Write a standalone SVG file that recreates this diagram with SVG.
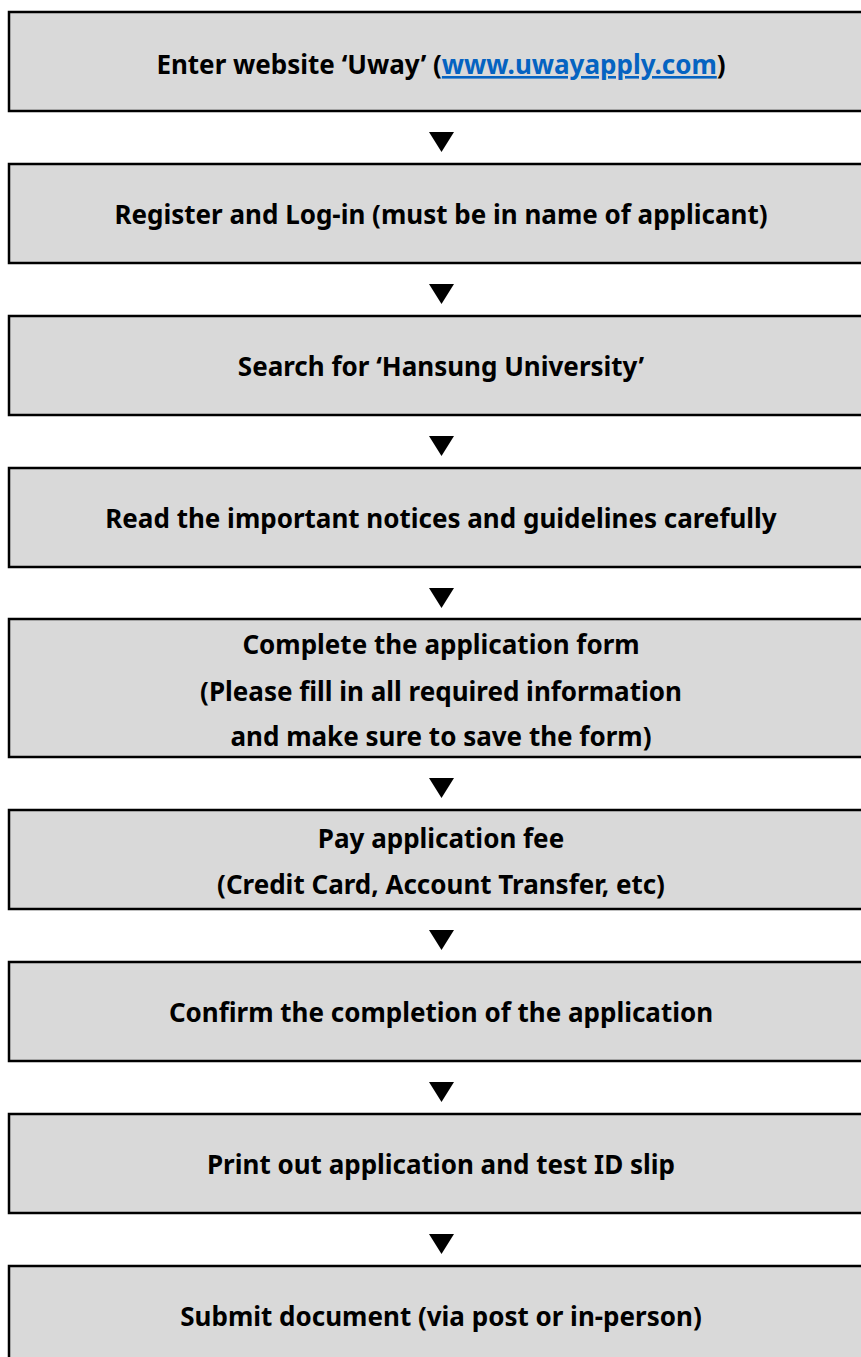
<svg xmlns="http://www.w3.org/2000/svg" width="861" height="1357" viewBox="0 0 861 1357">
<style>
.box{fill:#d9d9d9;stroke:#000;stroke-width:2.5}
.t{font-family:"Noto Sans","Liberation Sans",sans-serif;font-weight:bold;font-size:26px;fill:#000;text-anchor:middle}
.link{fill:#0563c1;text-decoration:underline}
.arr{fill:#000}
</style>
<rect width="861" height="1357" fill="#fff"/>
<g id="connectors">
<polygon class="arr" points="429,132 454,132 441.5,152"/>
<polygon class="arr" points="429,284 454,284 441.5,304"/>
<polygon class="arr" points="429,436 454,436 441.5,456"/>
<polygon class="arr" points="429,588 454,588 441.5,608"/>
<polygon class="arr" points="429,778 454,778 441.5,798"/>
<polygon class="arr" points="429,930 454,930 441.5,950"/>
<polygon class="arr" points="429,1082 454,1082 441.5,1102"/>
<polygon class="arr" points="429,1234 454,1234 441.5,1254"/>
</g>
<g id="n1"><rect class="box" x="9" y="12" width="880" height="99"/>
<text class="t" x="441" y="74">Enter website ‘Uway’ (<tspan class="link">www.uwayapply.com</tspan>)</text></g>
<g id="n2"><rect class="box" x="9" y="164" width="880" height="99"/>
<text class="t" x="441" y="224">Register and Log-in (must be in name of applicant)</text></g>
<g id="n3"><rect class="box" x="9" y="316" width="880" height="99"/>
<text class="t" x="441" y="376">Search for ‘Hansung University’</text></g>
<g id="n4"><rect class="box" x="9" y="468" width="880" height="99"/>
<text class="t" x="441" y="528">Read the important notices and guidelines carefully</text></g>
<g id="n5"><rect class="box" x="9" y="619" width="880" height="138"/>
<text class="t" x="441" y="654">Complete the application form</text>
<text class="t" x="441" y="701">(Please fill in all required information</text>
<text class="t" x="441" y="746">and make sure to save the form)</text></g>
<g id="n6"><rect class="box" x="9" y="810" width="880" height="99"/>
<text class="t" x="441" y="848">Pay application fee</text>
<text class="t" x="441" y="894">(Credit Card, Account Transfer, etc)</text></g>
<g id="n7"><rect class="box" x="9" y="962" width="880" height="99"/>
<text class="t" x="441" y="1022">Confirm the completion of the application</text></g>
<g id="n8"><rect class="box" x="9" y="1114" width="880" height="99"/>
<text class="t" x="441" y="1174">Print out application and test ID slip</text></g>
<g id="n9"><rect class="box" x="9" y="1266" width="880" height="120"/>
<text class="t" x="441" y="1326">Submit document (via post or in-person)</text></g>
</svg>
